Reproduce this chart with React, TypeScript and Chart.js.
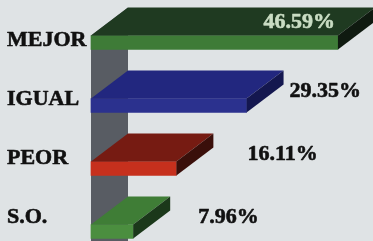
import React, { useEffect, useRef } from "react";
import { Chart, registerables } from "chart.js";

Chart.register(...registerables);

// ---- data ----
const categories = ["MEJOR", "IGUAL", "PEOR", "S.O."];
const values = [46.59, 29.35, 16.11, 7.96];
const valueLabels = ["46.59%", "29.35%", "16.11%", "7.96%"];
const xMax = 50;

// ---- style ----
const frontColors = ["#3e7b37", "#2b318e", "#c6301d", "#4b8e3f"];
const topColors = ["#1f3a21", "#22277f", "#761b12", "#3f7d36"];
const sideColors = ["#0f1a10", "#14174f", "#3a0f0a", "#1b381a"];
const valueLabelGap = [0, 43, 71, 65];
const wallColor = "#585c63";
const bgColor = "#dfe3e5";
const depthX = 37;
const depthY = -28;
const fontSpec = "bold 22px 'Liberation Serif'";

const threeD = {
  id: "threeD",
  beforeDatasetsDraw(chart: any) {
    const { ctx, chartArea } = chart;
    const meta = chart.getDatasetMeta(0);
    const first = meta.data[0];
    const p = first.getProps(["y", "height"], true);
    const top = p.y - p.height / 2;
    const L = chartArea.left;
    ctx.save();
    ctx.fillStyle = wallColor;
    ctx.beginPath();
    ctx.moveTo(L, top);
    ctx.lineTo(L + depthX, top + depthY);
    ctx.lineTo(L + depthX, chart.height);
    ctx.lineTo(L, chart.height);
    ctx.closePath();
    ctx.fill();
    ctx.restore();
  },
  afterDatasetsDraw(chart: any) {
    const { ctx } = chart;
    const meta = chart.getDatasetMeta(0);
    ctx.save();
    meta.data.forEach((bar: any, i: number) => {
      const { x, y, base, height } = bar.getProps(["x", "y", "base", "height"], true);
      const t = y - height / 2;
      const b = y + height / 2;
      ctx.fillStyle = topColors[i];
      ctx.beginPath();
      ctx.moveTo(base, t);
      ctx.lineTo(base + depthX, t + depthY);
      ctx.lineTo(x + depthX, t + depthY);
      ctx.lineTo(x, t);
      ctx.closePath();
      ctx.fill();
      ctx.fillStyle = sideColors[i];
      ctx.beginPath();
      ctx.moveTo(x, t);
      ctx.lineTo(x + depthX, t + depthY);
      ctx.lineTo(x + depthX, b + depthY);
      ctx.lineTo(x, b);
      ctx.closePath();
      ctx.fill();
    });
    ctx.restore();
  },
  afterDraw(chart: any) {
    const { ctx } = chart;
    const meta = chart.getDatasetMeta(0);
    const labels = chart.data.labels as string[];
    ctx.save();
    ctx.font = fontSpec + ", 'Times New Roman', serif";
    ctx.textBaseline = "alphabetic";
    ctx.lineWidth = 0.6;
    ctx.lineJoin = "round";
    const put = (s: string, px: number, py: number, color: string) => {
      ctx.fillStyle = color;
      ctx.strokeStyle = color;
      ctx.fillText(s, px, py);
      ctx.strokeText(s, px, py);
    };
    meta.data.forEach((bar: any, i: number) => {
      const { x, y } = bar.getProps(["x", "y"], true);
      ctx.textAlign = "left";
      put(labels[i], 7, y + 3.7 - 4.1 * i, "#111111");
      const v = values[i];
      if (v > 40) {
        ctx.textAlign = "right";
        put(valueLabels[i], x - 3, y - 14.5, "#c9dcc3");
      } else {
        ctx.textAlign = "left";
        put(valueLabels[i], x + valueLabelGap[i], y - 9, "#111111");
      }
    });
    ctx.restore();
  },
};

export default function App() {
  const ref = useRef<HTMLCanvasElement | null>(null);
  useEffect(() => {
    if (!ref.current) return;
    const chart = new Chart(ref.current, {
      type: "bar",
      data: {
        labels: categories,
        datasets: [
          {
            data: values,
            backgroundColor: frontColors,
            borderWidth: 0,
            barThickness: 14,
            clip: false as any,
          },
        ],
      },
      options: {
        indexAxis: "y",
        animation: false,
        responsive: false,
        layout: { padding: { left: 91, right: 17, top: 42.5, bottom: 9.5 } },
        plugins: { legend: { display: false }, tooltip: { enabled: false } },
        scales: {
          x: { display: false, min: 0, max: xMax },
          y: { display: false, offset: false, grid: { offset: false } },
        },
      },
      plugins: [threeD],
    });
    let alive = true;
    if ((document as any).fonts && (document as any).fonts.load) {
      (document as any).fonts.load(fontSpec).then(() => {
        if (alive) chart.update();
      });
    }
    return () => {
      alive = false;
      chart.destroy();
    };
  }, []);
  return (
    <div style={{ position: "fixed", left: 0, top: 0, width: 373, height: 241, background: bgColor }}>
      <canvas ref={ref} width={373} height={241} style={{ display: "block" }} />
    </div>
  );
}
